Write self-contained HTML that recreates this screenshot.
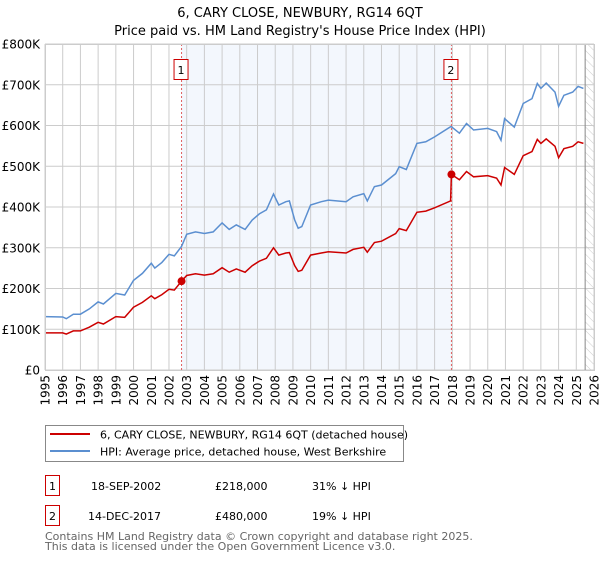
<!DOCTYPE html>
<html><head><meta charset="utf-8"><style>
body{margin:0;background:#fff;font-family:"DejaVu Sans","Liberation Sans",sans-serif;}
svg text{font-family:"DejaVu Sans","Liberation Sans",sans-serif;}
</style></head><body>
<svg id="chart" width="600" height="560" xmlns="http://www.w3.org/2000/svg">
<defs><pattern id="hatch" width="6" height="6" patternUnits="userSpaceOnUse" patternTransform="rotate(-45)"><line x1="0" y1="0" x2="0" y2="6" stroke="#ccc" stroke-width="1"/></pattern></defs>
<text x="300" y="17" font-size="13" text-anchor="middle">6, CARY CLOSE, NEWBURY, RG14 6QT</text>
<text x="300" y="35" font-size="13" text-anchor="middle">Price paid vs. HM Land Registry's House Price Index (HPI)</text>
<g id="plot"></g>
<g>
<rect x="45.5" y="425.5" width="358" height="36" fill="#fff" stroke="#888"/>
<line x1="50" y1="434" x2="90" y2="434" stroke="#cc0000" stroke-width="2"/>
<text x="100" y="438.5" font-size="11">6, CARY CLOSE, NEWBURY, RG14 6QT (detached house)</text>
<line x1="50" y1="451" x2="90" y2="451" stroke="#5b8fd0" stroke-width="2"/>
<text x="100" y="455.5" font-size="11">HPI: Average price, detached house, West Berkshire</text>
</g>
<g font-size="11">
<rect x="45.5" y="475.5" width="14" height="20" fill="#fff" stroke="#cc0000"/><text x="52.5" y="490" text-anchor="middle">1</text>
<text x="91" y="490">18-SEP-2002</text><text x="215" y="490">£218,000</text><text x="312" y="490">31% ↓ HPI</text>
<rect x="45.5" y="505.5" width="14" height="20" fill="#fff" stroke="#cc0000"/><text x="52.5" y="520" text-anchor="middle">2</text>
<text x="88" y="520">14-DEC-2017</text><text x="215" y="520">£480,000</text><text x="312" y="520">19% ↓ HPI</text>
</g>
<text x="45" y="540" font-size="11" fill="#666">Contains HM Land Registry data © Crown copyright and database right 2025.</text>
<text x="45" y="550" font-size="11" fill="#666">This data is licensed under the Open Government Licence v3.0.</text>
</svg>
<script>
const hpiYears=[1995.0,1996.0,1996.2,1996.6,1997.0,1997.5,1998.0,1998.3,1999.0,1999.5,2000.0,2000.5,2001.0,2001.2,2001.6,2002.0,2002.3,2002.71,2003.0,2003.5,2004.0,2004.5,2005.0,2005.4,2005.8,2006.3,2006.7,2007.1,2007.5,2007.9,2008.2,2008.6,2008.8,2009.1,2009.3,2009.5,2010.0,2010.6,2011.0,2012.0,2012.4,2013.0,2013.2,2013.6,2014.0,2014.8,2015.0,2015.4,2016.0,2016.5,2017.0,2017.9,2017.95,2018.4,2018.8,2019.2,2020.0,2020.5,2020.75,2020.95,2021.5,2022.0,2022.5,2022.8,2023.0,2023.3,2023.8,2024.0,2024.3,2024.8,2025.1,2025.4];
const hpiValues=[131,130,126,137,137,150,167,162,188,184,220,237,262,250,264,284,280,303,333,339,335,339,361,345,356,345,368,383,393,432,405,413,415,368,348,352,405,413,417,413,425,433,415,450,454,482,499,492,556,560,572,597,597,581,605,589,593,585,564,617,596,654,666,703,691,704,682,647,674,682,696,691];
const priceValues=[91,91,88,96,96,105,117,113,131,129,154,166,182,175,185,198,196,218,232,236,233,236,251,240,248,240,256,267,274,300,282,287,288,256,242,245,282,287,290,287,296,301,289,313,316,335,347,342,387,390,398,415,480,467,487,474,477,471,454,497,480,526,536,566,556,567,549,521,543,549,560,556];
const saleYears=[2002.71,2017.95];
const saleValues=[218,480];
const saleLabels=["1","2"];
const yTicks=[0,100,200,300,400,500,600,700,800];
const yTickLabels=["£0","£100K","£200K","£300K","£400K","£500K","£600K","£700K","£800K"];
const xTicks=[1995,1996,1997,1998,1999,2000,2001,2002,2003,2004,2005,2006,2007,2008,2009,2010,2011,2012,2013,2014,2015,2016,2017,2018,2019,2020,2021,2022,2023,2024,2025,2026];

const X0=45,X1=594,Y0=370,Y1=44;
const xs=y=>X0+(y-1995)/31*(X1-X0);
const ys=v=>Y0-v/800*(Y0-Y1);
const NS="http://www.w3.org/2000/svg";
const plot=document.getElementById('plot');
function mk(tag,attrs){const e=document.createElementNS(NS,tag);for(const k in attrs)e.setAttribute(k,attrs[k]);plot.appendChild(e);return e;}
let e;
e=mk('rect',{x:xs(saleYears[0]),y:Y1,width:xs(saleYears[1])-xs(saleYears[0]),height:Y0-Y1,fill:'#eef3fc',opacity:0.7});


e=mk('rect',{x:xs(2025.5),y:Y1,width:X1-xs(2025.5),height:Y0-Y1,fill:'url(#hatch)'});


xTicks.forEach(t=>{
 e=mk('line',{x1:xs(t),x2:xs(t),y1:Y1,y2:Y0,stroke:'#ccc','stroke-width':1});
 
 
 e=mk('text',{x:0,y:0,'font-size':12,'text-anchor':'end',transform:`translate(${xs(t)+4.5},375) rotate(-90)`});
 e.textContent=t;
 
 
});
yTicks.forEach((t,i)=>{
 e=mk('line',{x1:X0,x2:X1,y1:ys(t),y2:ys(t),stroke:'#ccc','stroke-width':1});
 
 
 e=mk('text',{x:40,y:ys(t)+4.5,'font-size':12,'text-anchor':'end'});
 e.textContent=yTickLabels[i];
 
 
});
e=mk('line',{x1:xs(2025.5),x2:xs(2025.5),y1:Y1,y2:Y0,stroke:'#888','stroke-width':1});


saleYears.forEach((s,i)=>{
 e=mk('line',{x1:xs(s),x2:xs(s),y1:Y1,y2:Y0,stroke:'#e06060','stroke-width':1,'stroke-dasharray':'2,2'});
 
 
 e=mk('rect',{x:xs(s)-7.5,y:59.5,width:14,height:20,fill:'#fff',stroke:'#cc0000'});
 
 
 e=mk('text',{x:xs(s)-0.5,y:74,'font-size':11,'text-anchor':'middle'});
 e.textContent=saleLabels[i];
 
 
});
const pts=(vals)=>hpiYears.map((y,i)=>xs(y).toFixed(1)+','+ys(vals[i]).toFixed(1)).join(' ');
e=mk('polyline',{points:pts(hpiValues),fill:'none',stroke:'#5b8fd0','stroke-width':1.5});


e=mk('polyline',{points:pts(priceValues),fill:'none',stroke:'#cc0000','stroke-width':1.5});


saleYears.forEach((s,i)=>{
 e=mk('circle',{cx:xs(s),cy:ys(saleValues[i]),r:4,fill:'#cc0000'});
 
 
});
e=mk('rect',{x:X0+0.5,y:Y1+0.5,width:X1-X0,height:Y0-Y1,fill:'none',stroke:'#ccc'});


</script>
</body></html>
